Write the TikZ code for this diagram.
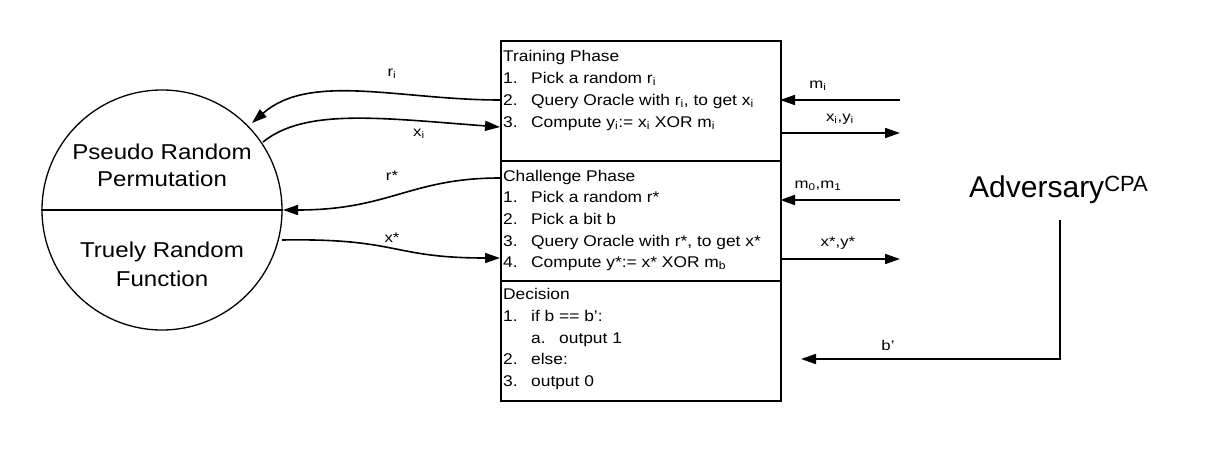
\documentclass[tikz,border=0pt]{standalone}
\usepackage{graphicx}
\usepackage{fontspec}
\setmainfont{Liberation Sans}
\usetikzlibrary{arrows.meta}
\newcommand{\hsb}[1]{\scalebox{1.12}[1]{#1}}
\newcommand{\hsl}[1]{\scalebox{1.2}[1]{#1}}
\newcommand{\hsc}[1]{\scalebox{1.12}[1]{#1}}
\newcommand{\sbs}[1]{\textsubscript{#1}}
\tikzset{
  every picture/.style={x=1pt,y=-1pt},
  boxtxt/.style={anchor=base west, inner sep=0pt, font=\fontsize{15.5}{18}\selectfont},
  lbl/.style={inner sep=0pt, font=\fontsize{14}{17}\selectfont},
  circtxt/.style={inner sep=0pt, font=\fontsize{21.5}{27}\selectfont},
  arr/.style={line width=1.6pt, -{Triangle[length=15pt,width=10pt]}},
  sect/.style={draw, line width=1.6pt, rectangle, minimum width=280pt, minimum height=120pt, anchor=north west, inner sep=0pt},
}
\begin{document}
\begin{tikzpicture}
\useasboundingbox (0,0) rectangle (1220,460);
% circle
\node[draw, circle, line width=1.3pt, minimum size=240pt, inner sep=0pt] (prp) at (162,210) {};
\draw[line width=1.6pt] (prp.west) -- (prp.east);
\node[circtxt] (prp1) at (162,152) {\hsc{Pseudo Random}};
\node[circtxt] (prp2) at (162,179) {\hsc{Permutation}};
\node[circtxt] (trf1) at (162,252) {\hsc{Truely Random}};
\node[circtxt] (trf2) at (162,279) {\hsc{Function}};
% box sections
\node[sect] (train) at (500,40) {};
\node[sect] (chal) at (500,160) {};
\node[sect] (dec) at (500,280) {};
% training text
\node[boxtxt] (t0) at (503,61) {\hsb{Training Phase}};
\node[boxtxt] (t1n) at (503,83) {\hsb{1.}};
\node[boxtxt] (t1) at (531,83) {\hsb{Pick a random r\sbs{i}}};
\node[boxtxt] (t2n) at (503,105) {\hsb{2.}};
\node[boxtxt] (t2) at (531,105) {\hsb{Query Oracle with r\sbs{i}, to get x\sbs{i}}};
\node[boxtxt] (t3n) at (503,127) {\hsb{3.}};
\node[boxtxt] (t3) at (531,127) {\hsb{Compute y\sbs{i}:= x\sbs{i} XOR m\sbs{i}}};
% challenge text
\node[boxtxt] (c0) at (503,181) {\hsb{Challenge Phase}};
\node[boxtxt] (c1n) at (503,202) {\hsb{1.}};
\node[boxtxt] (c1) at (531,202) {\hsb{Pick a random r*}};
\node[boxtxt] (c2n) at (503,224) {\hsb{2.}};
\node[boxtxt] (c2) at (531,224) {\hsb{Pick a bit b}};
\node[boxtxt] (c3n) at (503,246) {\hsb{3.}};
\node[boxtxt] (c3) at (531,246) {\hsb{Query Oracle with r*, to get x*}};
\node[boxtxt] (c4n) at (503,267) {\hsb{4.}};
\node[boxtxt] (c4) at (531,267) {\hsb{Compute y*:= x* XOR m\sbs{b}}};
% decision text
\node[boxtxt] (d0) at (503,299) {\hsb{Decision}};
\node[boxtxt] (d1n) at (503,321) {\hsb{1.}};
\node[boxtxt] (d1) at (531,321) {\hsb{if b == b':}};
\node[boxtxt] (dan) at (531,343) {\hsb{a.}};
\node[boxtxt] (da) at (559,343) {\hsb{output 1}};
\node[boxtxt] (d2n) at (503,364) {\hsb{2.}};
\node[boxtxt] (d2) at (531,364) {\hsb{else:}};
\node[boxtxt] (d3n) at (503,386) {\hsb{3.}};
\node[boxtxt] (d3) at (531,386) {\hsb{output 0}};
% adversary
\node[anchor=base west, inner sep=0pt, font=\fontsize{30}{36}\selectfont] (adv) at (969,197) {Adversary\raisebox{6pt}{\fontsize{22}{26}\selectfont CPA}};
% coordinates on the box and right side
\coordinate (riS) at (500,100);
\coordinate (riE) at (252,123);
\coordinate (xiS) at (263,142);
\coordinate (xiE) at (500,127);
\coordinate (rsS) at (500,178);
\coordinate (rsE) at (283,210);
\coordinate (xsS) at (282,240);
\coordinate (xsE) at (500,258);
\coordinate (miS) at (900,100);
\coordinate (miE) at (780,100);
\coordinate (xyS) at (780,133);
\coordinate (xyE) at (900,133);
\coordinate (mmS) at (900,200);
\coordinate (mmE) at (780,200);
\coordinate (xysS) at (780,259);
\coordinate (xysE) at (900,259);
\coordinate (bS) at (1060,220);
\coordinate (bC) at (1060,359);
\coordinate (bE) at (801,359);
% left connectors
\draw[arr] (riS) .. controls (400,100) and (310,72) .. (riE);
\draw[arr] (xiS) .. controls (305,108) and (380,118) .. (xiE);
\draw[arr] (rsS) .. controls (410,178) and (390,210) .. (rsE);
\draw[arr] (xsS) .. controls (400,238) and (390,258) .. (xsE);
% right connectors
\draw[arr] (miS) -- (miE);
\draw[arr] (xyS) -- (xyE);
\draw[arr] (mmS) -- (mmE);
\draw[arr] (xysS) -- (xysE);
\draw[arr] (bS) -- (bC) -- (bE);
% labels
\node[lbl] (lri) at (392,74) {\hsl{r\sbs{i}}};
\node[lbl] (lxi) at (419,134) {\hsl{x\sbs{i}}};
\node[lbl] (lrs) at (392,176) {\hsl{r*}};
\node[lbl] (lxs) at (392,238) {\hsl{x*}};
\node[lbl] (lmi) at (818,86) {\hsl{m\sbs{i}}};
\node[lbl] (lxy) at (840,119) {\hsl{x\sbs{i},y\sbs{i}}};
\node[lbl] (lmm) at (818,186) {\hsl{m\sbs{0},m\sbs{1}}};
\node[lbl] (lxys) at (838,243) {\hsl{x*,y*}};
\node[lbl] (lb) at (888,345) {\hsl{b'}};
\end{tikzpicture}
\end{document}
